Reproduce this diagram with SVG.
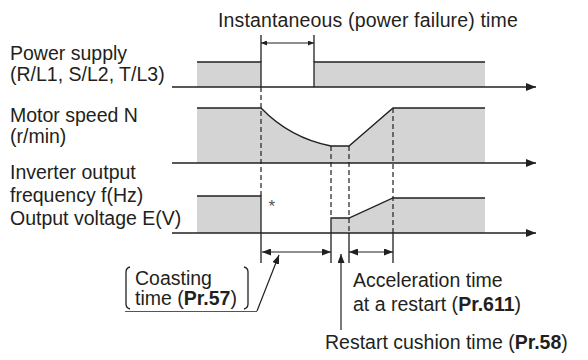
<svg xmlns="http://www.w3.org/2000/svg" width="588" height="360" viewBox="0 0 588 360">
<style>
text{font-family:"Liberation Sans",Arial,sans-serif;font-size:19.5px;fill:#231f20}
.b{font-weight:bold}
.fill{fill:#d4d4d5;stroke:none}
.ln{fill:none;stroke:#231f20;stroke-width:1.3}
.dash{fill:none;stroke:#231f20;stroke-width:1.2;stroke-dasharray:5 3}
.axis{stroke:#231f20;stroke-width:1.3;marker-end:url(#ax)}
.dim{stroke:#231f20;stroke-width:1.2;marker-start:url(#dm);marker-end:url(#dm)}
</style>
<defs>
<marker id="ax" viewBox="0 0 10 8" refX="10" refY="4" markerWidth="10" markerHeight="8" markerUnits="userSpaceOnUse" orient="auto"><path d="M0,0 L10,4 L0,8 Z" fill="#231f20"/></marker>
<marker id="dm" viewBox="0 0 9 7" refX="9" refY="3.5" markerWidth="9" markerHeight="7" markerUnits="userSpaceOnUse" orient="auto-start-reverse"><path d="M0,0 L9,3.5 L0,7 Z" fill="#231f20"/></marker>
<marker id="sm" viewBox="0 0 6 5" refX="6" refY="2.5" markerWidth="6" markerHeight="5" markerUnits="userSpaceOnUse" orient="auto-start-reverse"><path d="M0,0 L6,2.5 L0,5 Z" fill="#231f20"/></marker>
</defs>

<g id="label-instant">
<text x="218" y="27" letter-spacing="0.15">Instantaneous (power failure) time</text>
<line x1="261" y1="35" x2="261" y2="62" class="ln"/>
<line x1="314" y1="35" x2="314" y2="62" class="ln"/>
<line x1="261" y1="43" x2="314" y2="43" stroke="#231f20" stroke-width="1.1" marker-start="url(#sm)" marker-end="url(#sm)"/>
</g>

<g id="power-supply">
<text x="10" y="59.5">Power supply</text>
<text x="10" y="81">(R/L1, S/L2, T/L3)</text>
<rect class="fill" x="197" y="62" width="64" height="25"/>
<rect class="fill" x="314" y="62" width="171" height="25"/>
<path class="ln" d="M197,62 H261 V87 M314,87 V62 H485"/>
<line class="axis" x1="172" y1="87" x2="536" y2="87"/>
</g>

<g id="motor-speed">
<text x="10" y="122">Motor speed N</text>
<text x="10" y="143">(r/min)</text>
<path class="fill" d="M197,108 H261 Q290,138 331,146 H349 L393,108 H485 V163 H197 Z"/>
<path class="ln" d="M197,108 H261 Q290,138 331,146 H349 L393,108 H485"/>
<line class="axis" x1="172" y1="163" x2="536" y2="163"/>
</g>

<g id="inverter-output">
<text x="10" y="179">Inverter output</text>
<text x="10" y="202">frequency f(Hz)</text>
<text x="10" y="225">Output voltage E(V)</text>
<rect class="fill" x="197" y="196" width="64" height="37"/>
<path class="fill" d="M331,233 V218 H349 L393,198 H485 V233 Z"/>
<path class="ln" d="M197,196 H261 V233 M331,233 V218 H349 L393,198 H485"/>
<line class="axis" x1="172" y1="233" x2="536" y2="233"/>
<text x="268.5" y="212" style="font-size:17px;fill:#555">*</text>
</g>

<g id="connectors">
<line class="dash" x1="261" y1="87" x2="261" y2="196"/>
<line class="dash" x1="331" y1="146" x2="331" y2="218"/>
<line class="dash" x1="349" y1="146" x2="349" y2="233"/>
<line class="dash" x1="393" y1="108" x2="393" y2="233"/>
<path class="ln" d="M261,233 V263 M331,233 V263 M349,233 V263 M393,233 V263"/>
<line class="dim" x1="262" y1="252" x2="331" y2="252"/>
<line class="dim" x1="349" y1="252" x2="393" y2="252"/>
<line x1="341" y1="330" x2="341" y2="254" stroke="#231f20" stroke-width="1.2" marker-end="url(#dm)"/>
<line x1="257" y1="311" x2="279" y2="255" stroke="#231f20" stroke-width="1.2" marker-end="url(#dm)"/>
<line x1="125" y1="311.5" x2="257" y2="311.5" stroke="#555" stroke-width="1.2"/>
</g>

<g id="label-coasting">
<path class="ln" d="M130,267 Q126,268 126,272 V304 Q126,308 130,309" stroke-width="1"/>
<path class="ln" d="M244,267 Q248,268 248,272 V304 Q248,308 244,309" stroke-width="1"/>
<text x="135" y="285">Coasting</text>
<text x="135" y="305">time (<tspan class="b">Pr.57</tspan>)</text>
</g>

<g id="label-acceleration">
<text x="353" y="287">Acceleration time</text>
<text x="353" y="311">at a restart (<tspan class="b">Pr.611</tspan>)</text>
</g>

<g id="label-cushion">
<text x="325" y="349">Restart cushion time (<tspan class="b">Pr.58</tspan>)</text>
</g>
</svg>
